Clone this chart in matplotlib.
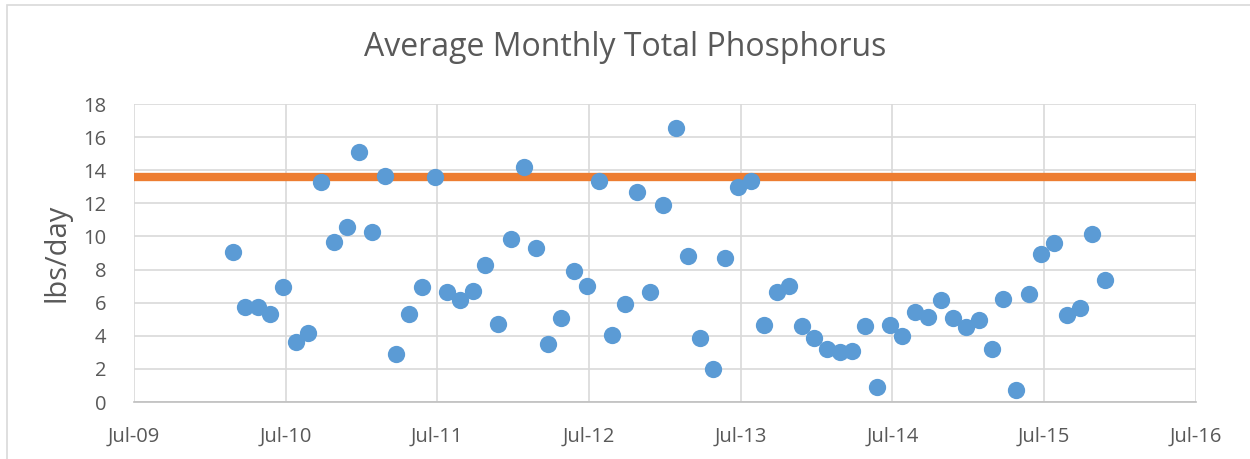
import matplotlib
matplotlib.use("Agg")
import matplotlib.pyplot as plt
import matplotlib.dates as mdates
from matplotlib.patches import Rectangle
import pandas as pd

# monthly averages, Feb-2010 .. Nov-2015
start_month = "2010-02"
n_months = 70
tp_lbs_day = [
    9.07, 5.71, 5.75, 5.30, 6.92, 3.63, 4.17, 13.27, 9.64, 10.57, 15.12,
    10.28, 13.67, 2.87, 5.30, 6.92, 13.57, 6.65, 6.19, 6.70, 8.27, 4.70, 9.82,
    14.22, 9.32, 3.53, 5.08, 7.93, 7.00, 13.37, 4.02, 5.89, 12.67, 6.65, 11.90,
    16.54, 8.83, 3.87, 2.02, 8.67, 13.01, 13.37, 4.64, 6.65, 7.00, 4.62, 3.87,
    3.23, 2.99, 3.07, 4.60, 0.91, 4.64, 3.97, 5.44, 5.14, 6.15, 5.10, 4.54,
    4.98, 3.23, 6.21, 0.75, 6.50, 8.92, 9.62, 5.23, 5.65, 10.15, 7.34,
]
limit_value = 13.61
x_ticks = ["2009-07-01", "2010-07-01", "2011-07-01", "2012-07-01",
           "2013-07-01", "2014-07-01", "2015-07-01", "2016-07-01"]

dates = pd.date_range(start_month, periods=n_months, freq="MS") + pd.Timedelta(days=24)
tick_dates = pd.to_datetime(x_ticks)

plt.rcParams['font.family'] = ['Open Sans', 'DejaVu Sans']
txt = '#595959'
grid = '#D9D9D9'

fig = plt.figure(figsize=(12.5, 4.59), dpi=100)
ax = fig.add_axes([134 / 1250, 1 - 402 / 459, (1196 - 134) / 1250, (402 - 104) / 459])

# chart area border
fig.patches.append(Rectangle((7 / 1250, -0.1), 1.2, 1 - 5 / 459 + 0.1,
                             transform=fig.transFigure, fill=False,
                             edgecolor=grid, linewidth=1.2))

ax.plot([tick_dates[0], tick_dates[-1]], [limit_value, limit_value],
        color='#ED7D31', linewidth=6, solid_capstyle='butt', zorder=2)
ax.scatter(dates, tp_lbs_day, s=155, color='#5B9BD5', zorder=3, linewidths=0)

ax.set_xlim(tick_dates[0], tick_dates[-1])
ax.set_ylim(0, 18)
ax.set_yticks(range(0, 19, 2))
ax.set_xticks(tick_dates)
ax.xaxis.set_major_formatter(mdates.DateFormatter('%b-%y'))
ax.grid(True, color=grid, linewidth=1.2, zorder=0)
ax.set_axisbelow(True)

for side in ['top', 'right', 'left']:
    ax.spines[side].set_visible(False)
ax.spines['bottom'].set_color('#BFBFBF')
ax.spines['bottom'].set_linewidth(1.2)
ax.tick_params(length=0, labelsize=14.5, colors=txt)
ax.tick_params(axis='y', pad=20)
ax.tick_params(axis='x', pad=18)

ax.set_ylabel('lbs/day', fontsize=21, color=txt, labelpad=8)
fig.text(0.5, 1 - 48 / 459, 'Average Monthly Total Phosphorus', ha='center',
         va='center', fontsize=23, color=txt)

fig.savefig('out.png', dpi=100)
